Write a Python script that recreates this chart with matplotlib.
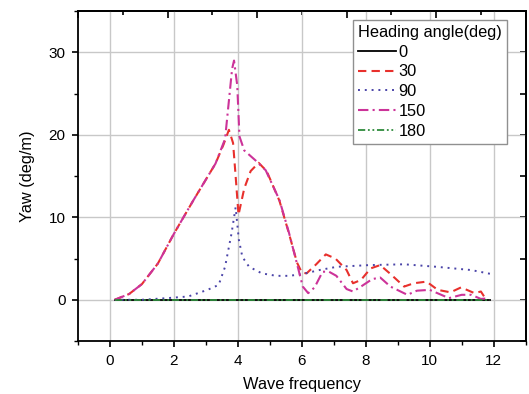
import matplotlib
matplotlib.use("Agg")
import matplotlib.pyplot as plt
from matplotlib.ticker import MultipleLocator, NullFormatter

plt.rcParams['font.family'] = ['Liberation Sans', 'DejaVu Sans']

# heading 0 and 180 deg: flat at zero
x_flat = [0.15, 1, 2, 3, 4, 5, 6, 7, 8, 9, 10, 11, 11.9]
y_0 = [0, 0, 0, 0, 0, 0, 0, 0, 0, 0, 0, 0, 0]
y_180 = [0, 0, 0, 0, 0, 0, 0, 0, 0, 0, 0, 0, 0]

# heading 30 deg
x_30 = [0.15, 0.6, 1.0, 1.5, 2.0, 2.6, 3.3, 3.55, 3.72, 3.85, 3.93, 4.02,
        4.2, 4.4, 4.65, 4.9, 5.3, 5.6, 5.85, 6.0, 6.15, 6.45, 6.75, 7.05,
        7.4, 7.6, 7.85, 8.15, 8.45, 8.75, 9.2, 9.5, 9.9, 10.25, 10.65,
        10.98, 11.4, 11.6, 11.75]
y_30 = [0, 0.7, 1.9, 4.4, 8.0, 12.0, 16.5, 18.8, 20.6, 19.0, 15.0, 10.3,
        13.5, 15.6, 16.6, 15.6, 12.0, 8.0, 4.5, 3.3, 3.2, 4.3, 5.5, 5.0,
        3.6, 2.0, 2.4, 3.8, 4.2, 3.2, 1.6, 2.0, 2.2, 1.2, 0.9, 1.5, 0.8,
        1.0, 0.1]

# heading 90 deg
x_90 = [0.15, 1.0, 1.8, 2.45, 3.05, 3.4, 3.6, 3.8, 3.93, 4.03, 4.14, 4.35,
        4.75, 5.2, 5.6, 6.0, 6.55, 7.1, 8.1, 9.2, 10.2, 11.3, 11.95]
y_90 = [0, 0, 0.2, 0.4, 1.2, 1.8, 4.0, 8.0, 11.2, 7.3, 5.2, 4.0, 3.2, 2.9,
        2.9, 3.1, 3.6, 4.0, 4.2, 4.3, 4.0, 3.6, 3.1]

# heading 150 deg
x_150 = [0.15, 0.6, 1.0, 1.5, 2.0, 2.6, 3.3, 3.6, 3.82, 3.88, 3.98, 4.05,
         4.2, 4.55, 4.87, 5.3, 5.6, 5.82, 6.03, 6.2, 6.4, 6.65, 6.85, 7.08,
         7.4, 7.6, 7.85, 8.2, 8.45, 8.77, 9.3, 9.6, 10.0, 10.3, 10.6, 11.0,
         11.3, 11.6, 11.75]
y_150 = [0, 0.7, 1.9, 4.4, 8.0, 12.0, 16.5, 19.5, 28.0, 29.0, 26.0, 19.8,
         18.1, 16.9, 15.7, 12.1, 8.1, 4.8, 1.6, 0.8, 1.5, 3.4, 3.4, 2.9,
         1.3, 1.0, 1.6, 2.5, 2.7, 1.6, 0.6, 1.1, 1.2, 0.7, 0.2, 0.6, 0.6,
         0.1, 0.15]

fig = plt.figure(figsize=(5.29, 3.94), dpi=100)
ax = fig.add_axes([0.1474, 0.1345, 0.8463, 0.8375])

ax.grid(True, color='#c8c8c8', linewidth=1.0, zorder=0)

ax.plot(x_flat, y_0, color='black', linestyle='-', linewidth=1.3, label='0')
ax.plot(x_30, y_30, color='#e8302c', linestyle=(0, (4, 2.5)), linewidth=1.5, label='30')
ax.plot(x_90, y_90, color='#4a44a8', linestyle=(0, (1, 2.5)), linewidth=1.4, label='90')
ax.plot(x_150, y_150, color='#cc3399', linestyle=(0, (5, 2, 1, 2)), linewidth=1.5, label='150')
ax.plot(x_flat, y_180, color='#2e8b3c', linestyle=(0, (4, 1.5, 1, 1.5, 1, 1.5)), linewidth=1.3, label='180')

ax.set_xlim(-1, 13)
ax.set_ylim(-5, 35)
ax.xaxis.set_major_locator(MultipleLocator(2))
ax.xaxis.set_minor_locator(MultipleLocator(1))
ax.yaxis.set_major_locator(MultipleLocator(10))
ax.yaxis.set_minor_locator(MultipleLocator(5))
ax.tick_params(which='both', direction='out', top=False, right=False, labelsize=11)
ax.tick_params(which='major', length=4.5, width=1.2, pad=4.5)
ax.tick_params(which='minor', length=3, width=1.0)
for s in ax.spines.values():
    s.set_linewidth(1.3)

# top axis: unlabeled secondary scale, ticks inward
top = ax.secondary_xaxis('top', functions=(lambda x: (x + 1) * 5 / 14,
                                           lambda t: t * 14 / 5 - 1))
top.xaxis.set_major_locator(MultipleLocator(1))
top.xaxis.set_minor_locator(MultipleLocator(0.5))
top.xaxis.set_major_formatter(NullFormatter())
top.tick_params(which='both', direction='in', width=1.2)
top.tick_params(which='major', length=5)
top.tick_params(which='minor', length=3)
top.spines['top'].set_linewidth(1.3)

# right axis: same scale as left, ticks inward
right = ax.secondary_yaxis('right')
right.yaxis.set_major_locator(MultipleLocator(10))
right.yaxis.set_minor_locator(MultipleLocator(5))
right.yaxis.set_major_formatter(NullFormatter())
right.tick_params(which='both', direction='in', width=1.2, length=4.5)
right.spines['right'].set_linewidth(1.3)

ax.set_xlabel('Wave frequency', fontsize=11.8, labelpad=7)
ax.set_ylabel('Yaw (deg/m)', fontsize=11.8, labelpad=10)

leg = ax.legend(title='Heading angle(deg)', loc='upper right',
                bbox_to_anchor=(0.958, 0.973), borderaxespad=0,
                fontsize=11.8, title_fontsize=11.8,
                handlelength=2.3, handletextpad=0.15, labelspacing=0.29,
                borderpad=0.3, fancybox=False, framealpha=1, edgecolor='#909090')
leg._legend_box.align = 'left'
leg.get_frame().set_linewidth(1.0)

fig.savefig('out.png', dpi=100)
